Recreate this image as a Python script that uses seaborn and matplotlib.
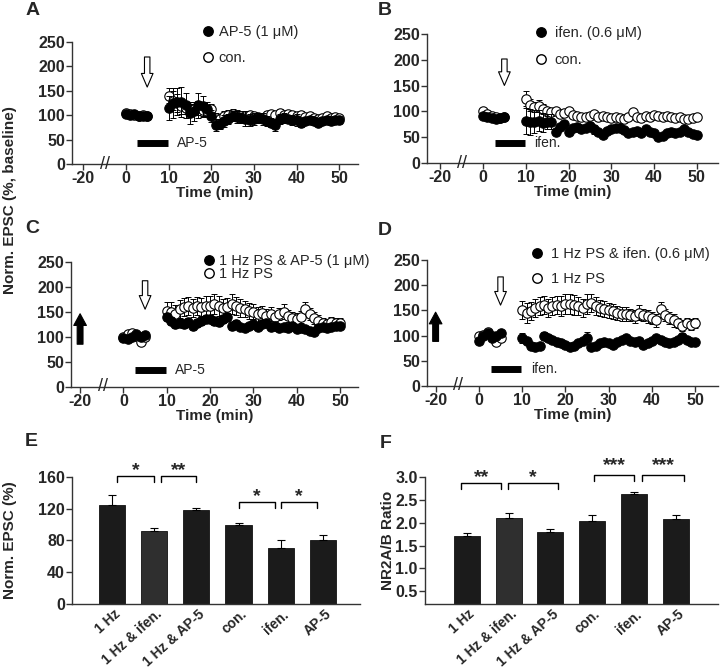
import numpy as np
import pandas as pd
import matplotlib
matplotlib.use("Agg")
import matplotlib.pyplot as plt
import matplotlib.transforms as mtransforms
from matplotlib.lines import Line2D
import seaborn as sns

sns.set_style("ticks")
plt.rcParams['font.family'] = ['Liberation Sans', 'DejaVu Sans']

# time points (min): baseline then post-conditioning
base_t = [0, 1, 2, 3, 4, 5]
post_t = list(range(10, 51))
times = base_t + post_t

# panel A
a_ap5 = [102, 100, 103, 98, 99, 98,
         115, 125, 128, 127, 120, 105, 108, 120, 118, 112, 98, 80, 82, 88, 92, 98, 96, 95, 93, 90,
         92, 95, 92, 88, 85, 80, 92, 95, 93, 90, 90, 85, 88, 90, 88, 85, 88, 90, 88, 90, 90]
a_ap5_err = [5, 4, 5, 4, 4, 4,
             25, 30, 28, 30, 25, 22, 20, 25, 22, 15, 12, 12, 10, 12, 10, 10, 12, 10, 15, 12,
             12, 10, 12, 10, 10, 12, 10, 10, 8, 10, 12, 10, 8, 8, 8, 8, 8, 8, 8, 8, 8]
a_con = [105, 103, 100, 98, 100, 99,
         140, 130, 125, 118, 115, 110, 112, 115, 110, 108, 112, 95, 92, 98, 100, 102, 100, 98, 98, 100,
         98, 96, 95, 100, 102, 100, 105, 100, 102, 100, 98, 100, 96, 98, 95, 92, 95, 98, 95, 97, 95]
a_con_err = [4, 4, 4, 4, 4, 4,
             15, 20, 18, 15, 12, 12, 12, 14, 12, 10, 10, 10, 8, 10, 10, 10, 10, 10, 8, 8,
             8, 8, 8, 8, 8, 8, 8, 8, 8, 8, 8, 8, 6, 6, 6, 6, 6, 6, 6, 6, 6]

# panel B
b_ifen = [92, 90, 88, 85, 87, 90,
          82, 80, 80, 82, 78, 80, 80, 60, 70, 75, 60, 68, 70, 65, 68, 72, 65, 60, 55, 62,
          65, 67, 68, 64, 58, 60, 62, 58, 65, 60, 58, 50, 52, 58, 60, 58, 60, 65, 60, 57, 55]
b_ifen_err = [4, 4, 4, 4, 4, 4,
              25, 25, 22, 20, 18, 15, 15, 6, 6, 6, 5, 5, 5, 5, 5, 8, 8, 5, 5, 5,
              5, 5, 5, 5, 5, 5, 5, 5, 5, 5, 5, 5, 5, 5, 5, 5, 5, 5, 5, 5, 5]
b_con = [100, 95, 92, 90, 88, 90,
         125, 112, 108, 110, 105, 100, 98, 100, 95, 97, 100, 93, 92, 90, 90, 92, 95, 90, 92, 90,
         88, 90, 88, 85, 90, 98, 90, 88, 92, 90, 93, 92, 90, 92, 90, 88, 90, 85, 86, 88, 90]
b_con_err = [4, 4, 4, 4, 4, 4,
             15, 12, 10, 12, 10, 8, 6, 6, 5, 5, 5, 5, 5, 5, 5, 5, 5, 5, 5, 5,
             5, 5, 5, 5, 5, 5, 5, 5, 5, 5, 5, 5, 5, 5, 5, 5, 5, 5, 5, 5, 5]

# panel C
c_ps_ap5 = [98, 95, 100, 105, 100, 103,
            140, 132, 125, 128, 125, 130, 122, 128, 132, 135, 135, 132, 130, 135, 140, 122, 125, 120, 118, 122,
            125, 120, 125, 128, 120, 122, 118, 120, 118, 122, 115, 118, 115, 112, 110, 118, 120, 118, 120, 122, 122]
c_ps_ap5_err = [5, 5, 5, 5, 5, 5,
                8, 8, 8, 8, 8, 8, 8, 8, 8, 8, 8, 8, 8, 8, 8, 8, 8, 6, 6, 6,
                6, 6, 6, 6, 6, 6, 6, 6, 6, 6, 6, 6, 6, 6, 6, 6, 6, 6, 6, 6, 6]
c_ps = [100, 105, 108, 102, 90, 100,
        152, 150, 145, 155, 160, 162, 158, 162, 160, 162, 162, 165, 162, 158, 160, 165, 162, 158, 155, 152,
        150, 145, 148, 142, 145, 140, 145, 150, 142, 138, 135, 140, 155, 145, 138, 132, 128, 125, 130, 128, 128]
c_ps_err = [5, 5, 5, 5, 5, 5,
            18, 20, 18, 18, 18, 18, 18, 18, 18, 20, 20, 20, 20, 18, 18, 20, 18, 18, 16, 16,
            15, 15, 14, 14, 14, 12, 12, 15, 12, 12, 12, 12, 15, 12, 12, 12, 10, 10, 10, 10, 10]

# panel D
d_ps_ifen = [90, 100, 105, 95, 100, 105,
             95, 90, 80, 78, 80, 100, 95, 92, 88, 85, 82, 78, 80, 85, 90, 95, 78, 80, 85, 88,
             85, 82, 88, 92, 95, 90, 88, 90, 82, 85, 90, 95, 92, 88, 85, 88, 92, 98, 92, 88, 88]
d_ps_ifen_err = [5, 5, 5, 5, 5, 5,
                 10, 6, 5, 5, 5, 8, 6, 5, 5, 5, 5, 5, 5, 5, 5, 12, 5, 5, 5, 6,
                 5, 5, 5, 5, 5, 5, 5, 5, 5, 5, 5, 5, 5, 5, 5, 5, 5, 8, 5, 5, 5]
d_ps = [100, 102, 108, 100, 88, 95,
        150, 145, 148, 155, 158, 160, 155, 158, 160, 158, 162, 162, 160, 158, 155, 162, 165, 158, 155, 152,
        150, 148, 145, 142, 142, 140, 138, 145, 140, 138, 135, 130, 152, 140, 135, 130, 125, 120, 125, 122, 125]
d_ps_err = c_ps_err

# time axis ticks (left of the break is compressed 2x)
time_tick_pos = [-10, 0, 10, 20, 30, 40, 50]
time_tick_lab = ['-20', '0', '10', '20', '30', '40', '50']

# bar panels
groups = ['1 Hz', '1 Hz & ifen.', '1 Hz & AP-5', 'con.', 'ifen.', 'AP-5']
epsc = [125, 92, 118, 100, 71, 81]
epsc_err = [12, 4, 2.5, 1.5, 9, 6]
ratio = [1.70, 2.10, 1.79, 2.03, 2.62, 2.09]
ratio_err = [0.07, 0.12, 0.07, 0.13, 0.05, 0.08]
bar_colors = ['#1b1b1b', '#2f2f2f', '#1b1b1b', '#1b1b1b', '#1b1b1b', '#1b1b1b']

TICK_FS = 11.5
LAB_FS = 11
LEG_FS = 10.5

fig = plt.figure(figsize=(7.2, 6.7), dpi=100)


def draw_series(ax, y, err, filled):
    ax.errorbar(times, y, yerr=err, fmt='none', ecolor='black', elinewidth=0.7,
                capsize=2, capthick=0.7, zorder=3 if filled else 2)
    sns.scatterplot(x=times, y=y, ax=ax, s=46, marker='o',
                    color='black' if filled else 'white', edgecolor='black',
                    linewidth=0.8, zorder=4 if filled else 2.5, legend=False)


def style_time_axis(ax, xlim):
    ax.set_xlim(*xlim)
    ax.set_ylim(0, 250)
    ax.set_xticks(time_tick_pos)
    ax.set_xticklabels(time_tick_lab)
    ax.set_yticks([0, 50, 100, 150, 200, 250])
    sns.despine(ax=ax)
    for s in ['left', 'bottom']:
        ax.spines[s].set_linewidth(1.0)
        ax.spines[s].set_color('#333333')
    ax.tick_params(labelsize=TICK_FS, length=4, width=1, pad=1, color='#333333')
    for lab in ax.get_xticklabels() + ax.get_yticklabels():
        lab.set_fontweight('bold')
    ax.set_xlabel('Time (min)', fontweight='bold', fontsize=LAB_FS, labelpad=0)
    ax.set_ylabel('')
    # axis break mark
    ax.text(-4.8, 0, '//', ha='center', va='center', fontsize=13, clip_on=False)


def legend(ax, labels, anchor, spacing, pad):
    handles = [Line2D([], [], marker='o', ls='none', mfc='black', mec='black', ms=6.8),
               Line2D([], [], marker='o', ls='none', mfc='white', mec='black', ms=6.8)]
    ax.legend(handles, labels, loc='upper left', bbox_to_anchor=anchor, frameon=False,
              fontsize=LEG_FS, borderpad=0, borderaxespad=0, handlelength=1.0,
              handletextpad=pad, labelspacing=spacing)


def open_arrow(ax, y0, y1):
    ax.annotate('', xy=(5, y1), xytext=(5, y0),
                arrowprops=dict(arrowstyle='simple,head_length=0.7,head_width=0.6,tail_width=0.28',
                                mutation_scale=14, fc='white', ec='black', lw=0.8))


def up_arrow(ax, y0, y1):
    ax.annotate('', xy=(-10, y1), xytext=(-10, y0),
                arrowprops=dict(arrowstyle='simple,head_length=0.6,head_width=0.65,tail_width=0.3',
                                mutation_scale=14, fc='black', ec='black', lw=0.8))


def drug_bar(ax, y, text):
    ax.plot([2.7, 9.8], [y, y], lw=5, color='black', solid_capstyle='butt')
    ax.text(12, y, text, va='center', ha='left', fontsize=10)


# ---- A ----
axA = fig.add_axes([0.100, 0.7552, 0.397, 0.1821])
draw_series(axA, a_con, a_con_err, False)
draw_series(axA, a_ap5, a_ap5_err, True)
style_time_axis(axA, (-12.6, 54.3))
legend(axA, ['AP-5 (1 \u03bcM)', 'con.'], (0.45, 1.14), 0.85, 0.25)
open_arrow(axA, 225, 152)
drug_bar(axA, 43, 'AP-5')

# ---- B ----
axB = fig.add_axes([0.593, 0.7567, 0.404, 0.1925])
draw_series(axB, b_con, b_con_err, False)
draw_series(axB, b_ifen, b_ifen_err, True)
style_time_axis(axB, (-13.1, 54.9))
legend(axB, ['ifen. (0.6 \u03bcM)', 'con.'], (0.367, 1.06), 0.85, 0.45)
open_arrow(axB, 207, 145)
drug_bar(axB, 39, 'ifen.')

# ---- C ----
axC = fig.add_axes([0.0986, 0.4224, 0.399, 0.1866])
draw_series(axC, c_ps, c_ps_err, False)
draw_series(axC, c_ps_ap5, c_ps_ap5_err, True)
style_time_axis(axC, (-12.1, 54.2))
legend(axC, ['1 Hz PS & AP-5 (1 \u03bcM)', '1 Hz PS'], (0.456, 1.06), -0.1, 0.2)
open_arrow(axC, 218, 150)
up_arrow(axC, 80, 152)
drug_bar(axC, 34, 'AP-5')

# ---- D ----
axD = fig.add_axes([0.593, 0.4239, 0.404, 0.188])
draw_series(axD, d_ps, d_ps_err, False)
draw_series(axD, d_ps_ifen, d_ps_ifen_err, True)
style_time_axis(axD, (-12.0, 55.2))
legend(axD, ['1 Hz PS & ifen. (0.6 \u03bcM)', '1 Hz PS'], (0.354, 1.10), 0.7, 0.45)
open_arrow(axD, 222, 155)
up_arrow(axD, 83, 152)
drug_bar(axD, 34, 'ifen.')

fig.text(0.014, 1 - 200 / 670, 'Norm. EPSC (%, baseline)', rotation=90, ha='center', va='center',
         fontsize=LAB_FS, fontweight='bold')


# ---- bar panels ----
def bar_panel(ax, vals, errs, ylim, yticks, ylabel, xlim, ylab_x):
    df = pd.DataFrame({'group': groups, 'value': vals})
    sns.barplot(data=df, x='group', y='value', hue='group', palette=bar_colors,
                ax=ax, width=0.62, edgecolor='#111111', linewidth=0.6, legend=False)
    ax.errorbar(range(len(vals)), vals, yerr=[np.zeros(len(vals)), errs], fmt='none',
                ecolor='black', elinewidth=0.8, capsize=3, capthick=0.8)
    ax.set_xlim(*xlim)
    ax.set_ylim(*ylim)
    ax.set_yticks(yticks)
    sns.despine(ax=ax)
    for s in ['left', 'bottom']:
        ax.spines[s].set_linewidth(1.0)
        ax.spines[s].set_color('#333333')
    ax.tick_params(axis='y', labelsize=TICK_FS, length=4, width=1, pad=1, color='#333333')
    ax.tick_params(axis='x', labelsize=10, length=0, pad=6)
    ax.set_xticks(range(len(groups)))
    ax.set_xticklabels(groups, rotation=42, ha='right', va='center', rotation_mode='anchor')
    shift = mtransforms.ScaledTranslation(6 / 100, 0, fig.dpi_scale_trans)
    for lab in ax.get_xticklabels():
        lab.set_transform(lab.get_transform() + shift)
    for lab in ax.get_xticklabels() + ax.get_yticklabels():
        lab.set_fontweight('bold')
    ax.set_xlabel('')
    ax.set_ylabel(ylabel, fontweight='bold', fontsize=LAB_FS)
    ax.yaxis.set_label_coords(ylab_x, 0.5)


def bracket(ax, x0, x1, ytop, ybot, stars, ystar):
    ax.plot([x0, x0, x1, x1], [ybot, ytop, ytop, ybot], color='black', lw=1.0, clip_on=False)
    ax.text((x0 + x1) / 2, ystar, stars, ha='center', va='center', fontsize=14,
            fontweight='bold', clip_on=False)


axE = fig.add_axes([0.100, 0.0985, 0.400, 0.1896])
bar_panel(axE, epsc, epsc_err, (0, 160), [0, 40, 80, 120, 160], 'Norm. EPSC (%)', (-0.95, 5.88), -0.19)
bracket(axE, 0.12, 1.0, 161, 154, '*', 168)
bracket(axE, 1.15, 2.0, 161, 154, '**', 168)
bracket(axE, 3.0, 3.87, 128, 121, '*', 135)
bracket(axE, 4.0, 4.87, 128, 121, '*', 135)

axF = fig.add_axes([0.590, 0.0985, 0.407, 0.1896])
bar_panel(axF, ratio, ratio_err, (0.22, 3.0), [0.5, 1.0, 1.5, 2.0, 2.5, 3.0], 'NR2A/B Ratio', (-1.0, 6.0), -0.10)
bracket(axF, -0.13, 0.83, 2.87, 2.74, '**', 2.98)
bracket(axF, 0.99, 2.17, 2.87, 2.74, '*', 2.98)
bracket(axF, 3.04, 4.0, 3.04, 2.91, '***', 3.26)
bracket(axF, 4.2, 5.19, 3.04, 2.91, '***', 3.26)

# panel letters
for letter, x, y in [('A', 0.035, 0.997), ('B', 0.525, 0.997), ('C', 0.035, 0.672),
                     ('D', 0.525, 0.669), ('E', 0.035, 0.354), ('F', 0.528, 0.350)]:
    fig.text(x, y, letter, fontsize=14, fontweight='bold', va='top', ha='left')

fig.savefig('out.png', dpi=100)
